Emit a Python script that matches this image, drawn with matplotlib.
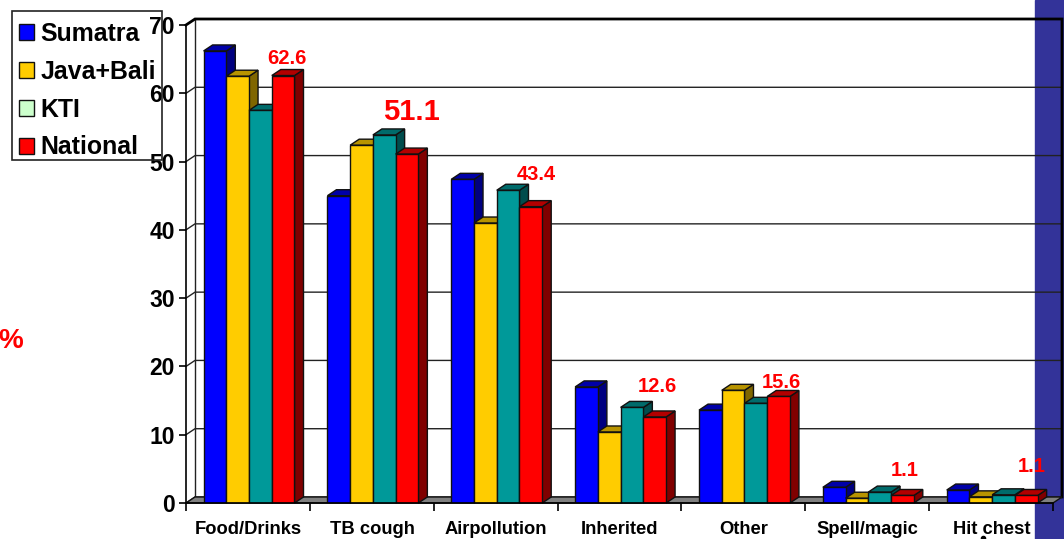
import matplotlib
matplotlib.use('Agg')
from matplotlib import pyplot as plt
from matplotlib.lines import Line2D
from matplotlib.patches import Patch, Rectangle

plt.rcParams['font.family'] = ['Liberation Sans', 'DejaVu Sans']
plt.rcParams['font.weight'] = 'bold'

#data
categories = ['Food/Drinks', 'TB cough', 'Airpollution', 'Inherited', 'Other', 'Spell/magic', 'Hit chest']
sumatra = [66.2, 45.0, 47.4, 17.0, 13.6, 2.3, 1.9]
java_bali = [62.5, 52.4, 41.0, 10.4, 16.5, 0.7, 0.9]
kti = [57.5, 53.9, 45.8, 14.0, 14.6, 1.6, 1.2]
national = [62.6, 51.1, 43.4, 12.6, 15.6, 1.1, 1.1]
yticks = [0, 10, 20, 30, 40, 50, 60, 70]

series = [
    ('Sumatra', sumatra, '#0000ff', '#000080', '#0000a8', '#0000ff'),
    ('Java+Bali', java_bali, '#ffcc00', '#806600', '#b89400', '#ffcc00'),
    ('KTI', kti, '#009999', '#004d4d', '#006b6b', '#ccffcc'),
    ('National', national, '#ff0000', '#800000', '#b30000', '#ff0000'),
]

#national label placement: pixels above the bar, pixels right of the bar, font size
label_style = [(17, 4, 14.5), (42, 4, 21), (32, 5, 14.5), (30, 3, 14.5), (14, 3, 14.5), (25, 2, 14.5), (29, 5, 14.5)]

W, H = 1064, 539
fig = plt.figure(figsize=(W/100, H/100), dpi=100)
ax = fig.add_axes([186/W, (H-503)/H, 867/W, 478/H])
ax.set_xlim(0, 7)
ax.set_ylim(0, 70)
ax.patch.set_visible(False)
for s in ax.spines.values():
    s.set_visible(False)

#sidebar behind the chart
fig.add_artist(Rectangle((1035/W, 0), 29/W, 1, transform=fig.transFigure, color='#333399', zorder=-1))

#depth of the fake 3d box in data units
dx = 9/(867/7)
dy = 6/(478/70)
bar_w = 0.1835
group_start = 0.142


def face(xs, ys, color, z, edge='#111111', lw=1.0):
    ax.fill(xs, ys, facecolor=color, edgecolor=edge, linewidth=lw, clip_on=False, zorder=z, joinstyle='miter')


#back wall and gridlines
for v in yticks[:-1]:
    ax.plot([0, dx, 7+dx], [v, v+dy, v+dy], color='#222222', lw=1, clip_on=False, zorder=1)
ax.plot([0, dx, 7+dx, 7+dx], [70, 70+dy, 70+dy, dy], color='black', lw=2, clip_on=False, zorder=1.5,
        solid_joinstyle='miter')
ax.plot([dx, dx], [dy, 70+dy], color='#222222', lw=1, clip_on=False, zorder=1)

#floor
face([0, 7, 7+dx, dx], [0, 0, dy, dy], '#808080', 2)

#bars, left to right so each one hides the side of the previous one
z = 3
for g in range(len(categories)):
    for j, (name, vals, front, side, top, _) in enumerate(series):
        x0 = g + group_start + j*bar_w
        x1 = x0 + bar_w
        v = vals[g]
        face([x1, x1+dx, x1+dx, x1], [0, dy, v+dy, v], side, z)
        face([x0, x1, x1+dx, x0+dx], [v, v, v+dy, v+dy], top, z)
        ax.bar(x0, v, bar_w, align='edge', color=front, edgecolor='#111111', linewidth=1.0, zorder=z+0.5)
        z += 1

#axes lines
ax.plot([0, 0, 7], [70, 0, 0], color='black', lw=1.2, clip_on=False, zorder=z)

ax.set_yticks(yticks)
ax.set_yticklabels([str(v) for v in yticks])
ax.set_xticks(range(8))
ax.set_xticklabels([])
ax.set_xticks([g + 0.504 for g in range(len(categories))], labels=categories, minor=True)
ax.tick_params(axis='y', length=5, width=1.2, pad=3, labelsize=16.5, color='black')
ax.tick_params(axis='x', which='major', length=6, width=1.2)
ax.tick_params(axis='x', which='minor', length=0, pad=13, labelsize=13.2)

#values over the national bars
for g, v in enumerate(national):
    up, right, size = label_style[g]
    bar_mid = g + group_start + 3.5*bar_w
    ax.annotate(f'{v:.1f}', xy=(bar_mid, v), xytext=(right*0.72, up*0.72), textcoords='offset points',
                ha='center', va='center', color='#ff0000', fontsize=size, zorder=z+1,
                annotation_clip=False)

#y axis unit, runs off the left edge
fig.text(11/W, 1-341/H, '%', color='#ff0000', fontsize=20, ha='center', va='center')

#small dot under the last category
fig.add_artist(Line2D([983/W], [1.5/H], transform=fig.transFigure, marker='o', markersize=3, color='black'))

#legend box is drawn on its own so the rows can sit lower inside it
fig.add_artist(Rectangle((12/W, 1-160/H), 150/W, 149/H, transform=fig.transFigure, facecolor='none',
                         edgecolor='#222222', linewidth=1.2))
handles = [Patch(facecolor=s[5], edgecolor='#111111', linewidth=1, label=s[0]) for s in series]
fig.legend(handles=handles, loc='upper left', bbox_to_anchor=(10/W, 1-13/H), bbox_transform=fig.transFigure,
           fontsize=17.9, frameon=False, borderpad=0.35, labelspacing=0.56, handlelength=0.6,
           handleheight=0.6, handletextpad=0.26, borderaxespad=0)

fig.savefig('out.png', dpi=100)
